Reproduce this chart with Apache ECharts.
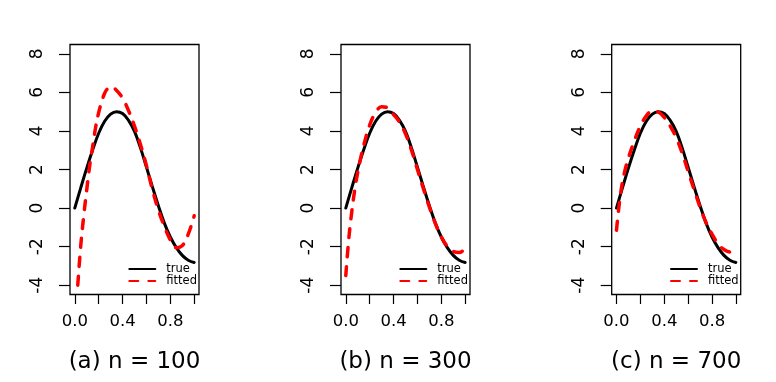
<!DOCTYPE html>
<html>
<head>
<meta charset="utf-8">
<script src="https://cdn.jsdelivr.net/npm/echarts@6/dist/echarts.min.js"></script>
<style>
html,body{margin:0;padding:0;background:#fff;}
#c{width:776px;height:382px;}
</style>
</head>
<body>
<div id="c"></div>
<script>
// ---- data ----
const panelTitles = ['(a) n = 100', '(b) n = 300', '(c) n = 700'];
const seriesNames = ['true', 'fitted'];

const xTrue = [0, 0.05, 0.1, 0.15, 0.2, 0.25, 0.3, 0.35, 0.4, 0.45, 0.5, 0.55, 0.6, 0.65, 0.7, 0.75, 0.8, 0.85, 0.9, 0.95, 1.0];
const yTrue = [0, 1.05, 2.07, 3.02, 3.88, 4.5, 4.87, 5.0, 4.9, 4.55, 3.98, 3.12, 2.12, 1.1, 0.12, -0.78, -1.5, -2.05, -2.45, -2.7, -2.82];

const xFit1 = [0.025, 0.05, 0.075, 0.1, 0.125, 0.15, 0.175, 0.2, 0.225, 0.25, 0.275, 0.3, 0.35, 0.4, 0.45, 0.5, 0.55, 0.6, 0.65, 0.7, 0.75, 0.8, 0.85, 0.9, 0.95, 1.0];
const yFit1 = [-4.0, -1.95, -0.4, 0.95, 2.2, 3.2, 4.2, 4.95, 5.5, 5.95, 6.2, 6.3, 6.1, 5.7, 5.05, 4.25, 3.3, 2.2, 0.95, -0.1, -0.95, -1.65, -2.05, -1.95, -1.35, -0.4];

const xFit2 = [0, 0.025, 0.05, 0.075, 0.1, 0.125, 0.15, 0.2, 0.25, 0.3, 0.35, 0.4, 0.45, 0.5, 0.55, 0.6, 0.65, 0.7, 0.75, 0.8, 0.85, 0.9, 0.95, 1.0];
const yFit2 = [-3.5, -1.6, -0.2, 0.95, 1.85, 2.6, 3.25, 4.3, 4.95, 5.25, 5.2, 4.85, 4.45, 3.85, 3.0, 2.0, 1.0, 0.05, -0.8, -1.5, -1.98, -2.25, -2.3, -2.1];

const xFit3 = [0, 0.025, 0.05, 0.075, 0.1, 0.15, 0.2, 0.25, 0.3, 0.35, 0.4, 0.45, 0.5, 0.55, 0.6, 0.65, 0.7, 0.75, 0.8, 0.85, 0.9, 0.95, 1.0];
const yFit3 = [-1.15, 0.3, 1.35, 2.05, 2.6, 3.5, 4.25, 4.78, 5.03, 4.98, 4.7, 4.25, 3.65, 2.85, 1.9, 0.95, 0.05, -0.75, -1.35, -1.85, -2.15, -2.28, -2.3];

const xTicks = [0, 0.2, 0.4, 0.6, 0.8, 1.0];
const xTickLabels = [0, 0.4, 0.8];
const yTicks = [-4, -2, 0, 2, 4, 6, 8];

const fits = [[xFit1, yFit1], [xFit2, yFit2], [xFit3, yFit3]];

// ---- layout ----
const gridLefts = [70, 341, 611.7];
const gridTop = 44.5, gridW = 129, gridH = 250;
const FONT = 'DejaVu Sans';

const zip = (xs, ys) => xs.map((x, i) => [x, ys[i]]);

const grids = [], xAxes = [], yAxes = [], series = [], titles = [], legends = [];
gridLefts.forEach((gl, i) => {
  grids.push({ left: gl, top: gridTop, width: gridW, height: gridH, show: true,
    borderColor: '#000', borderWidth: 1.3, backgroundColor: 'transparent', containLabel: false });
  xAxes.push({ type: 'value', gridIndex: i, min: -0.04, max: 1.04, position: 'bottom',
    axisLine: { show: false, onZero: false }, splitLine: { show: false },
    axisTick: { show: true, length: 9.5, customValues: xTicks, lineStyle: { color: '#000', width: 1.2 } },
    axisLabel: { show: true, customValues: xTickLabels, margin: 19, color: '#000', fontSize: 16.5, fontFamily: FONT, lineHeight: 16,
      formatter: v => Number(v).toFixed(1) } });
  yAxes.push({ type: 'value', gridIndex: i, min: -4.48, max: 8.48, position: 'left',
    axisLine: { show: false, onZero: false }, splitLine: { show: false },
    axisTick: { show: true, length: 11, customValues: yTicks, lineStyle: { color: '#000', width: 1.2 } },
    axisLabel: { show: true, customValues: yTicks, rotate: 90, margin: 24, color: '#000', fontSize: 17, fontFamily: FONT, lineHeight: 16,
      formatter: v => String(Math.round(v)) } });
  series.push({ name: seriesNames[0], type: 'line', xAxisIndex: i, yAxisIndex: i, data: zip(xTrue, yTrue),
    smooth: 0.4, symbol: 'none', lineStyle: { color: '#000', width: 3, cap: 'round', join: 'round' },
    itemStyle: { color: '#000' }, animation: false, z: 2 });
  series.push({ name: seriesNames[1], type: 'line', xAxisIndex: i, yAxisIndex: i, data: zip(fits[i][0], fits[i][1]),
    smooth: 0.4, symbol: 'none', lineStyle: { color: '#ff0000', width: 3.5, type: [9, 10], cap: 'round', join: 'round' },
    itemStyle: { color: '#ff0000' }, animation: false, z: 3 });
  titles.push({ text: panelTitles[i], left: gl + 59.5, top: 344, textAlign: 'center',
    textStyle: { fontFamily: FONT, fontSize: 23, fontWeight: 'normal', color: '#000', lineHeight: 26 } });
  legends.push({ data: seriesNames, orient: 'vertical', left: gl + 58.3, top: 263,
    itemWidth: 26, itemHeight: 12, itemGap: 0, selectedMode: false, padding: 0,
    itemStyle: { opacity: 0, borderWidth: 0 },
    textStyle: { fontFamily: FONT, fontSize: 11.5, color: '#000', lineHeight: 12, padding: [0, 0, 0, 6] } });
});

const chart = echarts.init(document.getElementById('c'), null, { renderer: 'canvas' });
chart.setOption({
  backgroundColor: '#fff',
  animation: false,
  title: titles,
  legend: legends,
  grid: grids,
  xAxis: xAxes,
  yAxis: yAxes,
  series: series
});
</script>
</body>
</html>
